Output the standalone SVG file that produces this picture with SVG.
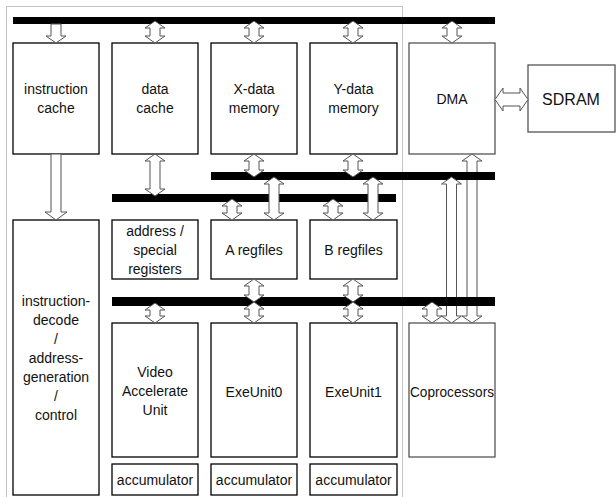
<svg xmlns="http://www.w3.org/2000/svg" width="616" height="497" viewBox="0 0 616 497">
  <style>
    .box { fill: #fff; stroke: #000; stroke-width: 1.3; }
    .gbox { fill: #fff; stroke: #555; stroke-width: 1.3; }
    .bus { fill: #000; }
    .arr { fill: #fff; stroke: #555; stroke-width: 1; stroke-linejoin: miter; }
    .frame { fill: none; stroke: #888; stroke-width: 1; stroke-dasharray: 1 1; }
    text { font-family: "Liberation Sans", Arial, sans-serif; font-size: 14px; fill: #111; text-anchor: middle; dominant-baseline: central; }
    .big { font-size: 16px; }
  </style>

  <!-- core boundary -->
  <rect class="frame" x="6.5" y="6.5" width="396" height="500"/>

  <!-- nodes -->
  <g id="icache"><rect class="box" x="13" y="43" width="86" height="111"/>
    <text x="56" y="89">instruction</text><text x="56" y="108">cache</text></g>
  <g id="dcache"><rect class="box" x="112" y="43" width="86" height="111"/>
    <text x="155" y="89">data</text><text x="155" y="108">cache</text></g>
  <g id="xmem"><rect class="box" x="211" y="43" width="86" height="111"/>
    <text x="254" y="89">X-data</text><text x="254" y="108">memory</text></g>
  <g id="ymem"><rect class="box" x="310" y="43" width="87" height="111"/>
    <text x="353.5" y="89">Y-data</text><text x="353.5" y="108">memory</text></g>
  <g id="dma"><rect class="gbox" x="409" y="43" width="86" height="111"/>
    <text x="452" y="99">DMA</text></g>
  <g id="sdram"><rect class="gbox" x="528" y="65" width="87" height="67"/>
    <text class="big" x="571" y="99">SDRAM</text></g>

  <g id="decode"><rect class="box" x="13" y="220" width="86" height="275"/>
    <text x="56" y="301">instruction-</text><text x="56" y="320">decode</text>
    <text x="56" y="339">/</text><text x="56" y="358">address-</text>
    <text x="56" y="377">generation</text><text x="56" y="396">/</text>
    <text x="56" y="415">control</text></g>
  <g id="addrregs"><rect class="box" x="112" y="220" width="86" height="59"/>
    <text x="155" y="231">address /</text><text x="155" y="250">special</text><text x="155" y="269">registers</text></g>
  <g id="aregs"><rect class="box" x="211" y="220" width="86" height="59"/>
    <text x="254" y="250">A regfiles</text></g>
  <g id="bregs"><rect class="box" x="310" y="220" width="87" height="59"/>
    <text x="353.5" y="250">B regfiles</text></g>

  <g id="vau"><rect class="box" x="112" y="323" width="86" height="134"/>
    <text x="155" y="372">Video</text><text x="155" y="391">Accelerate</text><text x="155" y="410">Unit</text></g>
  <g id="exe0"><rect class="box" x="211" y="323" width="86" height="134"/>
    <text x="254" y="392">ExeUnit0</text></g>
  <g id="exe1"><rect class="box" x="310" y="323" width="87" height="134"/>
    <text x="353.5" y="392">ExeUnit1</text></g>
  <g id="coproc"><rect class="gbox" x="409" y="323" width="86" height="134"/>
    <text x="452" y="392" textLength="84" lengthAdjust="spacingAndGlyphs">Coprocessors</text></g>

  <g id="acc0"><rect class="box" x="112" y="464" width="86" height="31"/>
    <text x="155" y="480">accumulator</text></g>
  <g id="acc1"><rect class="box" x="211" y="464" width="86" height="31"/>
    <text x="254" y="480">accumulator</text></g>
  <g id="acc2"><rect class="box" x="310" y="464" width="87" height="31"/>
    <text x="353.5" y="480">accumulator</text></g>

  <!-- connectors: buses and block arrows -->
  <g id="connectors">
    <!-- long DMA to coprocessor arrow sits under the buses -->
    <path class="arr" d="M472,154 L482,161 L477,161 L477,316 L482,316 L472,323 L462,316 L467,316 L467,161 L462,161 Z"/>

    <rect class="bus" x="13" y="17" width="482" height="7"/>
    <rect class="bus" x="211" y="172" width="284" height="8"/>
    <rect class="bus" x="112" y="194" width="284" height="8"/>

    <!-- bus 2 to coprocessor -->
    <path class="arr" d="M451.5,177 L461.5,184 L456.5,184 L456.5,316 L461.5,316 L451.5,323 L441.5,316 L446.5,316 L446.5,184 L441.5,184 Z"/>

    <rect class="bus" x="112" y="297" width="383" height="9"/>

    <!-- top bus -->
    <path class="arr" d="M51,24 L61,24 L61,36 L66,36 L56,43 L46,36 L51,36 Z"/>
    <path class="arr" d="M155,21 L165,28 L160,28 L160,36 L165,36 L155,43 L145,36 L150,36 L150,28 L145,28 Z"/>
    <path class="arr" d="M254,21 L264,28 L259,28 L259,36 L264,36 L254,43 L244,36 L249,36 L249,28 L244,28 Z"/>
    <path class="arr" d="M353,21 L363,28 L358,28 L358,36 L363,36 L353,43 L343,36 L348,36 L348,28 L343,28 Z"/>
    <path class="arr" d="M452,21 L462,28 L457,28 L457,36 L462,36 L452,43 L442,36 L447,36 L447,28 L442,28 Z"/>

    <!-- DMA to SDRAM -->
    <path class="arr" d="M495,99.5 L503,88 L503,93 L520,93 L520,88 L528,99.5 L520,111 L520,106 L503,106 L503,111 Z"/>

    <!-- instruction cache to decode -->
    <path class="arr" d="M51,154 L61,154 L61,212 L67,212 L56,220 L45,212 L51,212 Z"/>

    <!-- memories to buses -->
    <path class="arr" d="M155,154 L165,161 L160,161 L160,189 L165,189 L155,196 L145,189 L150,189 L150,161 L145,161 Z"/>
    <path class="arr" d="M254,154 L264,161 L259,161 L259,170 L264,170 L254,177 L244,170 L249,170 L249,161 L244,161 Z"/>
    <path class="arr" d="M353,154 L363,161 L358,161 L358,170 L363,170 L353,177 L343,170 L348,170 L348,161 L343,161 Z"/>

    <!-- buses to register files -->
    <path class="arr" d="M232,199 L242,206 L237,206 L237,213 L242,213 L232,220 L222,213 L227,213 L227,206 L222,206 Z"/>
    <path class="arr" d="M274,177 L284,184 L279,184 L279,213 L284,213 L274,220 L264,213 L269,213 L269,184 L264,184 Z"/>
    <path class="arr" d="M333,199 L343,206 L338,206 L338,213 L343,213 L333,220 L323,213 L328,213 L328,206 L323,206 Z"/>
    <path class="arr" d="M373,177 L383,184 L378,184 L378,213 L383,213 L373,220 L363,213 L368,213 L368,184 L363,184 Z"/>

    <!-- register files to bus 4 -->
    <path class="arr" d="M254,279 L264,286 L259,286 L259,295 L264,295 L254,302 L244,295 L249,295 L249,286 L244,286 Z"/>
    <path class="arr" d="M353,279 L363,286 L358,286 L358,295 L363,295 L353,302 L343,295 L348,295 L348,286 L343,286 Z"/>

    <!-- bus 4 to execution units -->
    <path class="arr" d="M155,303 L165,310 L160,310 L160,316 L165,316 L155,323 L145,316 L150,316 L150,310 L145,310 Z"/>
    <path class="arr" d="M254,302 L264,309 L259,309 L259,316 L264,316 L254,323 L244,316 L249,316 L249,309 L244,309 Z"/>
    <path class="arr" d="M353,302 L363,309 L358,309 L358,316 L363,316 L353,323 L343,316 L348,316 L348,309 L343,309 Z"/>
    <path class="arr" d="M432,302 L442,309 L437,309 L437,316 L442,316 L432,323 L422,316 L427,316 L427,309 L422,309 Z"/>
  </g>
</svg>
